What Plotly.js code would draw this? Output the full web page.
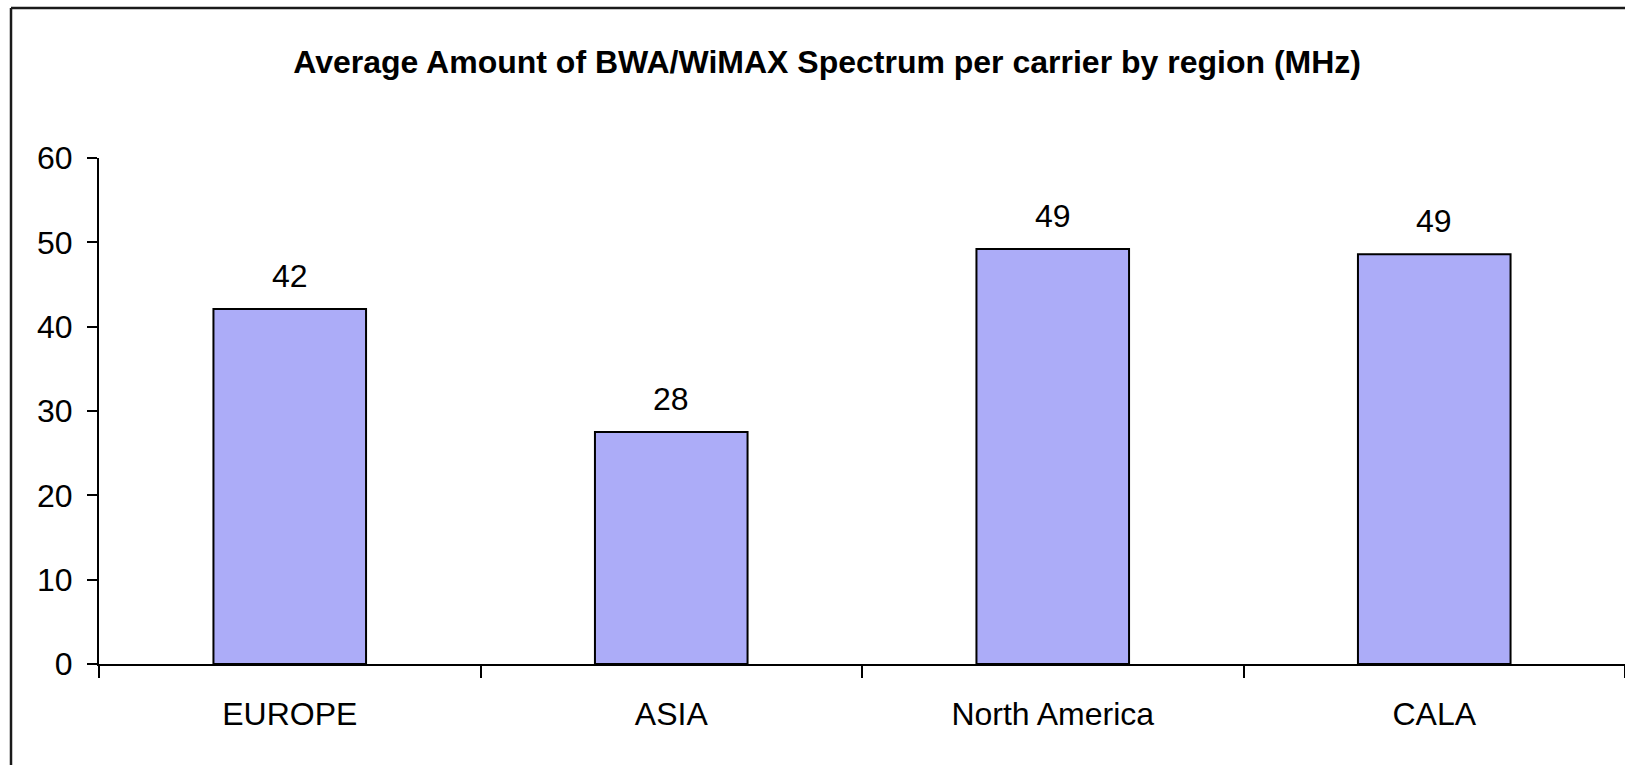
<!DOCTYPE html>
<html>
<head>
<meta charset="utf-8">
<script src="https://cdn.plot.ly/plotly-3.0.1.min.js"></script>
<style>html,body{margin:0;padding:0;background:#fff;}#chart{width:1625px;height:765px;}</style>
</head>
<body>
<div id="chart"></div>
<script>
var regions = ["EUROPE", "ASIA", "North America", "CALA"];
var spectrumMHz = [42.1, 27.5, 49.2, 48.6];
var labelValues = ["42", "28", "49", "49"];
var yTicks = [0, 10, 20, 30, 40, 50, 60];
var chartTitle = "Average Amount of BWA/WiMAX Spectrum per carrier by region (MHz)";

var font = "Liberation Sans, Arial, sans-serif";

var trace = {
  type: "bar",
  x: regions,
  y: spectrumMHz,
  marker: { color: "#acacf8", line: { color: "#000", width: 2 } },
  width: 0.4,
  hoverinfo: "x+y"
};

var annotations = regions.map(function (r, i) {
  return {
    x: r, y: spectrumMHz[i], xref: "x", yref: "y",
    text: labelValues[i], showarrow: false,
    yanchor: "bottom", yshift: 13,
    font: { family: font, size: 32, color: "#000" }
  };
});

var borderLine = { color: "#1a1a1a", width: 2.5 };

var layout = {
  width: 1625, height: 765,
  paper_bgcolor: "#fff", plot_bgcolor: "#fff",
  margin: { l: 99, r: 0, t: 158, b: 101 },
  showlegend: false,
  title: {
    text: "<b>" + chartTitle + "</b>",
    x: 0.509, xanchor: "center", xref: "container",
    y: 1 - 62 / 765, yanchor: "middle", yref: "container",
    font: { family: font, size: 32, color: "#000" }
  },
  xaxis: {
    type: "category",
    showline: true, linecolor: "#000", linewidth: 2,
    ticks: "outside", tickson: "boundaries", ticklen: 12, tickwidth: 2, tickcolor: "#000",
    tickfont: { family: font, size: 32, color: "#000" },
    ticklabelstandoff: 21,
    showgrid: false, zeroline: false, fixedrange: true
  },
  yaxis: {
    range: [0, 60],
    tickvals: yTicks,
    showline: true, linecolor: "#000", linewidth: 2,
    ticks: "outside", ticklen: 10, tickwidth: 2, tickcolor: "#000",
    tickfont: { family: font, size: 32, color: "#000" },
    ticklabelstandoff: 8,
    showgrid: false, zeroline: false, fixedrange: true
  },
  annotations: annotations,
  shapes: [
    {
      type: "line", xref: "paper", yref: "paper",
      x0: (11 - 99) / 1526, x1: 1.1,
      y0: (664 - 8) / 506, y1: (664 - 8) / 506,
      line: borderLine, layer: "above"
    },
    {
      type: "line", xref: "paper", yref: "paper",
      x0: (11 - 99) / 1526, x1: (11 - 99) / 1526,
      y0: -0.3, y1: (664 - 8) / 506,
      line: borderLine, layer: "above"
    }
  ]
};

Plotly.newPlot("chart", [trace], layout, { displayModeBar: false, staticPlot: true });
</script>
</body>
</html>
